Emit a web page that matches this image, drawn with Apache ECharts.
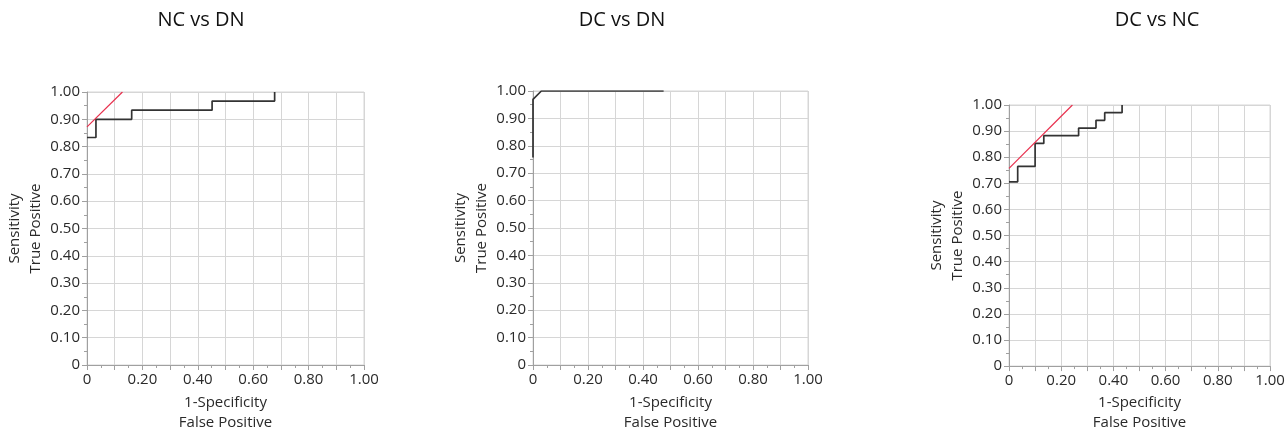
<!DOCTYPE html>
<html>
<head>
<meta charset="utf-8">
<script src="https://cdn.jsdelivr.net/npm/echarts@6/dist/echarts.min.js"></script>
<style>
html,body{margin:0;padding:0;background:#fff;}
#chart{width:1288px;height:438px;}
</style>
</head>
<body>
<div id="chart"></div>
<script>
// ---- data ----
const panelTitles = ['NC vs DN', 'DC vs DN', 'DC vs NC'];

// NC vs DN ROC curve (1-Specificity, Sensitivity)
const ncdnFpr = [0, 0.0323, 0.0323, 0.1613, 0.1613, 0.4516, 0.4516, 0.6774, 0.6774];
const ncdnTpr = [0.8333, 0.8333, 0.9, 0.9, 0.9333, 0.9333, 0.9667, 0.9667, 1.0];
const ncdnTangentX = [0, 0.128];
const ncdnTangentY = [0.872, 1.0];

// DC vs DN ROC curve
const dcdnFpr = [0, 0, 0.0303, 0.475];
const dcdnTpr = [0.7576, 0.9697, 1.0, 1.0];

// DC vs NC ROC curve
const dcncFpr = [0, 0.0333, 0.0333, 0.1, 0.1, 0.1333, 0.1333, 0.2667, 0.2667, 0.3333, 0.3333, 0.3667, 0.3667, 0.4333, 0.4333];
const dcncTpr = [0.7059, 0.7059, 0.7647, 0.7647, 0.8529, 0.8529, 0.8824, 0.8824, 0.9118, 0.9118, 0.9412, 0.9412, 0.9706, 0.9706, 1.0];
const dcncTangentX = [0, 0.243];
const dcncTangentY = [0.757, 1.0];

const xAxisName = '1-Specificity\nFalse Positive';
const yAxisName = 'Sensitivity\nTrue Positive';

// ---- layout ----
const grids = [
  {left: 87, top: 92, width: 277, height: 277},
  {left: 533, top: 91, width: 275, height: 274},
  {left: 1009, top: 105, width: 261, height: 262}
];
const titleCenters = [201, 622, 1157];
const xNameGaps = [28, 28, 26];
const yNameGaps = [38, 38, 34];

function zip(xs, ys) { return xs.map((x, i) => [x, ys[i]]); }

const font = 'Open Sans';
const axisColor = '#a0a0a0';
const gridColor = '#d6d6d6';
const textColor = '#2a2a2a';

function xAxis(i) {
  return {
    type: 'value', gridIndex: i, min: 0, max: 1, interval: 0.1,
    axisLine: {show: true, onZero: false, lineStyle: {color: axisColor}},
    axisTick: {show: true, length: 5, lineStyle: {color: axisColor}},
    minorTick: {show: true, splitNumber: 2, length: 3, lineStyle: {color: axisColor}},
    splitLine: {show: true, lineStyle: {color: gridColor}},
    axisLabel: {
      fontSize: 15, color: textColor, fontFamily: font, margin: 7,
      showMinLabel: true, showMaxLabel: true,
      formatter: v => {
        const k = Math.round(v * 10);
        if (k % 2 !== 0) return '';
        return k === 0 ? '0' : (k / 10).toFixed(2);
      }
    },
    name: xAxisName, nameLocation: 'middle', nameGap: xNameGaps[i],
    nameTextStyle: {fontSize: 15, lineHeight: 20, color: textColor, fontFamily: font}
  };
}
function yAxis(i) {
  return {
    type: 'value', gridIndex: i, min: 0, max: 1, interval: 0.1,
    axisLine: {show: true, onZero: false, lineStyle: {color: axisColor}},
    axisTick: {show: true, length: 5, lineStyle: {color: axisColor}},
    minorTick: {show: true, splitNumber: 2, length: 3, lineStyle: {color: axisColor}},
    splitLine: {show: true, lineStyle: {color: gridColor}},
    axisLabel: {
      fontSize: 15, color: textColor, fontFamily: font, margin: 7,
      showMinLabel: true, showMaxLabel: true,
      formatter: v => {
        const k = Math.round(v * 10);
        return k === 0 ? '0' : (k / 10).toFixed(2);
      }
    },
    name: yAxisName, nameLocation: 'middle', nameGap: yNameGaps[i],
    nameTextStyle: {fontSize: 15, lineHeight: 21, color: textColor, fontFamily: font}
  };
}

function rocSeries(i, xs, ys) {
  return {
    type: 'line', xAxisIndex: i, yAxisIndex: i, data: zip(xs, ys),
    showSymbol: false, symbol: 'none', silent: true, z: 3,
    lineStyle: {color: '#333333', width: 1.7}
  };
}
function tangentSeries(i, xs, ys) {
  return {
    type: 'line', xAxisIndex: i, yAxisIndex: i, data: zip(xs, ys),
    showSymbol: false, symbol: 'none', silent: true, z: 4,
    lineStyle: {color: '#e8304e', width: 1.2}
  };
}

const chart = echarts.init(document.getElementById('chart'), null, {renderer: 'canvas'});
chart.setOption({
  animation: false,
  backgroundColor: '#fff',
  grid: grids.map(g => Object.assign({show: true, borderColor: gridColor, borderWidth: 1, backgroundColor: 'transparent'}, g)),
  xAxis: [0, 1, 2].map(xAxis),
  yAxis: [0, 1, 2].map(yAxis),
  graphic: panelTitles.map((t, i) => ({
    type: 'text', x: titleCenters[i], y: 20,
    style: {text: t, align: 'center', verticalAlign: 'middle', fontSize: 20, fontFamily: font, fill: '#111'}
  })),
  series: [
    rocSeries(0, ncdnFpr, ncdnTpr),
    tangentSeries(0, ncdnTangentX, ncdnTangentY),
    rocSeries(1, dcdnFpr, dcdnTpr),
    rocSeries(2, dcncFpr, dcncTpr),
    tangentSeries(2, dcncTangentX, dcncTangentY)
  ]
});
</script>
</body>
</html>
